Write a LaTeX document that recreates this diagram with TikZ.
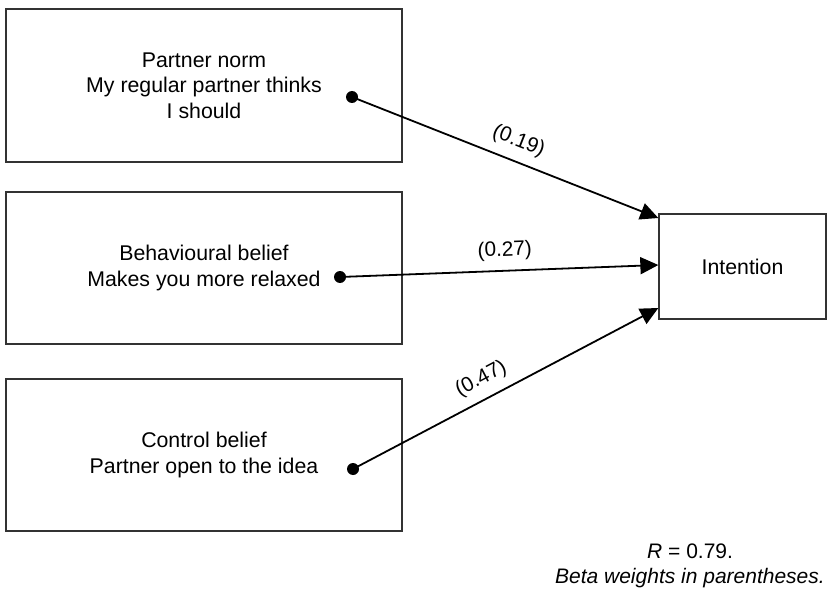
\documentclass[tikz,border=0pt]{standalone}
\usepackage{fontspec}
\setmainfont{Liberation Sans}
\usetikzlibrary{arrows.meta}
\begin{document}
\begin{tikzpicture}[x=1pt,y=-1pt,
  box/.style={draw=black!80, line width=1.3pt, minimum width=396pt, minimum height=152pt, align=center, font=\fontsize{21.3}{25.5}\selectfont, inner sep=0pt},
  dot/.style={circle, fill=black, inner sep=0pt, minimum size=12pt},
  conn/.style={line width=1.8pt, -{Triangle[length=18pt,width=17pt]}},
  wt/.style={font=\fontsize{20.8}{24}\selectfont, sloped, above=6pt},
  note/.style={font=\fontsize{21}{25}\selectfont, inner sep=0pt}]
\useasboundingbox (0,0) rectangle (828,591);
\node[box, minimum height=153pt] (pn) at (204,85.5) {Partner norm\\My regular partner thinks\\I should};
\node[box] (bb) at (204,268) {Behavioural belief\\Makes you more relaxed};
\node[box] (cb) at (204,455) {Control belief\\Partner open to the idea};
\node[box, minimum width=167pt, minimum height=105pt] (int) at (742.5,266.5) {Intention};
\node[dot] (d1) at (352,97) {};
\node[dot] (d2) at (340,277) {};
\node[dot] (d3) at (353,469) {};
\draw[conn] (d1.center) -- node[wt, pos=0.52] {(0.19)} ([yshift=48.5pt]int.west);
\draw[conn] (d2.center) -- node[wt, pos=0.52] {(0.27)} ([yshift=1.5pt]int.west);
\draw[conn] (d3.center) -- node[wt, pos=0.45] {(0.47)} ([yshift=-41.5pt]int.west);
\node[note, anchor=base west] (r) at (647,558) {\textit{R} = 0.79.};
\node[note, anchor=base east] (bw) at (825,583) {\textit{Beta weights in parentheses.}};
\end{tikzpicture}
\end{document}
